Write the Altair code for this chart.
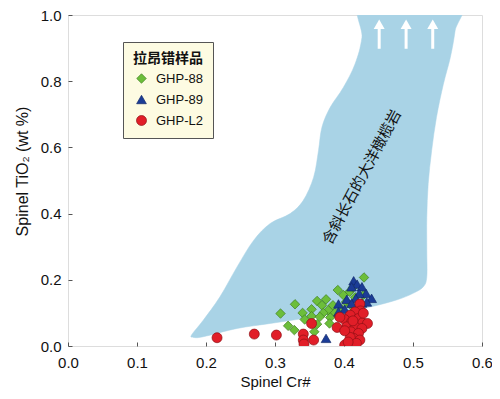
import altair as alt
import pandas as pd

# ---- data ----
g88_x = [0.429, 0.391, 0.408, 0.413, 0.416, 0.361, 0.374, 0.368, 0.329, 0.403,
         0.384, 0.397, 0.377, 0.370, 0.387, 0.340, 0.353, 0.353, 0.343, 0.365,
         0.380, 0.308, 0.319, 0.328, 0.361, 0.379, 0.357, 0.410, 0.399, 0.428]
g88_y = [0.207, 0.169, 0.164, 0.177, 0.147, 0.136, 0.141, 0.123, 0.126, 0.133,
         0.123, 0.111, 0.108, 0.100, 0.100, 0.100, 0.111, 0.090, 0.080, 0.088,
         0.086, 0.098, 0.061, 0.048, 0.066, 0.068, 0.043, 0.123, 0.154, 0.154]

g89_x = [0.414, 0.419, 0.426, 0.411, 0.432, 0.440, 0.422, 0.404, 0.417, 0.392,
         0.411, 0.426, 0.433, 0.401, 0.392, 0.374]
g89_y = [0.197, 0.187, 0.179, 0.179, 0.159, 0.144, 0.159, 0.141, 0.144, 0.127,
         0.129, 0.130, 0.133, 0.111, 0.103, 0.023]

gl2_x = [0.423, 0.424, 0.416, 0.409, 0.401, 0.411, 0.421, 0.427, 0.434, 0.404,
         0.416, 0.390, 0.426, 0.410, 0.421, 0.414, 0.423, 0.409, 0.401, 0.418,
         0.401, 0.353, 0.341, 0.341, 0.342, 0.356, 0.413, 0.216, 0.270, 0.302,
         0.394, 0.428, 0.406]
gl2_y = [0.127, 0.106, 0.103, 0.093, 0.080, 0.073, 0.083, 0.070, 0.068, 0.058,
         0.058, 0.056, 0.053, 0.043, 0.038, 0.023, 0.018, 0.026, 0.046, 0.008,
         0.003, 0.068, 0.036, 0.018, 0.006, 0.018, 0.076, 0.025, 0.036, 0.033,
         0.087, 0.099, 0.012]

series_names = ["GHP-88", "GHP-89", "GHP-L2"]

# field of plagioclase-bearing abyssal peridotites (boundary, Cr#, TiO2)
field_x = [0.179, 0.196, 0.220, 0.245, 0.269, 0.293, 0.322, 0.341, 0.356, 0.363,
           0.368, 0.380, 0.399, 0.416, 0.426, 0.429, 0.566, 0.561, 0.554,
           0.544, 0.534, 0.527, 0.522, 0.520, 0.520, 0.520, 0.515, 0.500, 0.476,
           0.438, 0.389, 0.341, 0.293, 0.245, 0.196, 0.182]
field_y = [0.033, 0.078, 0.148, 0.239, 0.319, 0.370, 0.400, 0.440, 0.510, 0.590,
           0.661, 0.721, 0.781, 0.852, 0.932, 1.05, 1.05, 0.952, 0.871,
           0.791, 0.691, 0.590, 0.490, 0.389, 0.289, 0.209, 0.179, 0.159, 0.139,
           0.118, 0.098, 0.083, 0.068, 0.053, 0.028, 0.026]

arrow_x = [0.451, 0.490, 0.5286]
arrow_shaft_lo = 0.898
arrow_shaft_hi = 0.96
arrow_head_y = 0.972

field_label = "含斜长石的大洋橄榄岩"
field_label_x = 0.4257
field_label_y = 0.5105

x_ticks = [0.0, 0.1, 0.2, 0.3, 0.4, 0.5, 0.6]
y_ticks = [0.0, 0.2, 0.4, 0.6, 0.8, 1.0]

# ---- tables ----
pts = pd.concat([
    pd.DataFrame({"x": g88_x, "y": g88_y, "s": series_names[0]}),
    pd.DataFrame({"x": g89_x, "y": g89_y, "s": series_names[1]}),
    pd.DataFrame({"x": gl2_x, "y": gl2_y, "s": series_names[2]}),
], ignore_index=True)
pts["o"] = range(len(pts))

field = pd.DataFrame({"x": field_x, "y": field_y, "i": range(len(field_x))})
arrows = pd.DataFrame({"x": arrow_x, "y0": arrow_shaft_lo, "y1": arrow_shaft_hi,
                       "yh": arrow_head_y})
label_df = pd.DataFrame({"x": [field_label_x], "y": [field_label_y], "t": [field_label]})

FONT = "Liberation Sans"
xs = alt.Scale(domain=[0, 0.6], nice=False)
ys = alt.Scale(domain=[0, 1.0], nice=False)

xax = alt.Axis(values=x_ticks, format=".1f", title="Spinel Cr#", grid=False,
               domain=False, offset=-4, tickSize=4, tickColor="#555",
               labelFlush=False, labelOverlap=False,
               labelPadding=9, labelFontSize=15, labelFont=FONT, labelColor="#111",
               titleFont=FONT, titleFontSize=15, titleFontWeight="normal",
               titleColor="#111", titlePadding=4)
yax = alt.Axis(values=y_ticks, format=".1f", title="Spinel TiO₂ (wt %)", grid=False,
               domain=False, offset=-4, tickSize=4, tickColor="#555",
               labelFlush=False, labelOverlap=False,
               labelPadding=7, labelFontSize=15, labelFont=FONT, labelColor="#111",
               titleFont=FONT, titleFontSize=16, titleFontWeight="normal",
               titleColor="#111", titlePadding=10, titleY=156)

poly = alt.Chart(field).mark_line(
    fill="#A9D3E6", color="#A9D3E6", strokeWidth=0.5, interpolate="cardinal-closed",
    clip=True
).encode(
    x=alt.X("x:Q", scale=xs, axis=xax),
    y=alt.Y("y:Q", scale=ys, axis=yax),
    order=alt.Order("i:Q"),
)

shafts = alt.Chart(arrows).mark_rule(color="white", strokeWidth=3).encode(
    x=alt.X("x:Q", scale=xs), y=alt.Y("y0:Q", scale=ys), y2="y1:Q"
)
heads = alt.Chart(arrows).mark_point(
    shape="triangle-up", filled=True, color="white", size=120, opacity=1
).encode(x=alt.X("x:Q", scale=xs), y=alt.Y("yh:Q", scale=ys))

txt = alt.Chart(label_df).mark_text(
    angle=298, font="Noto Sans CJK SC", fontSize=15, color="#111"
).encode(x=alt.X("x:Q", scale=xs), y=alt.Y("y:Q", scale=ys), text="t:N")

legend = alt.Legend(
    orient="none", legendX=55, legendY=27, title="拉昂错样品",
    titleFont="Noto Sans CJK SC", titleFontSize=14, titleFontWeight="bold",
    titleColor="#111", titlePadding=6,
    labelFont=FONT, labelFontSize=13, labelColor="#111", labelOffset=8,
    padding=10, strokeColor="#555", fillColor="#FDFBE2",
    symbolSize=75, rowPadding=7, symbolOffset=2, symbolStrokeWidth=0.7,
)

scatter = alt.Chart(pts).mark_point(filled=True, opacity=1, strokeWidth=0.7, clip=True).encode(
    x=alt.X("x:Q", scale=xs),
    y=alt.Y("y:Q", scale=ys),
    color=alt.Color("s:N", scale=alt.Scale(domain=series_names,
                    range=["#6CBE3A", "#1B3C96", "#E11E28"]), legend=legend),
    shape=alt.Shape("s:N", scale=alt.Scale(domain=series_names,
                    range=["diamond", "triangle-up", "circle"]), legend=legend),
    stroke=alt.Stroke("s:N", scale=alt.Scale(domain=series_names,
                    range=["#3F7E22", "#13296B", "#8E1016"]), legend=legend),
    size=alt.Size("s:N", scale=alt.Scale(domain=series_names, range=[90, 100, 85]),
                  legend=None),
    order=alt.Order("o:Q"),
)

chart = alt.layer(poly, shafts, heads, txt, scatter).properties(
    width=414, height=331,
    padding={"left": 60, "top": 7, "right": 10, "bottom": 45},
    autosize=alt.AutoSizeParams(type="none"),
).configure_view(
    fill="#FDFBE2", stroke="#444", strokeWidth=1.3
).configure(background="white")

chart.save("out.html", embed_options={"renderer": "svg", "actions": False})
